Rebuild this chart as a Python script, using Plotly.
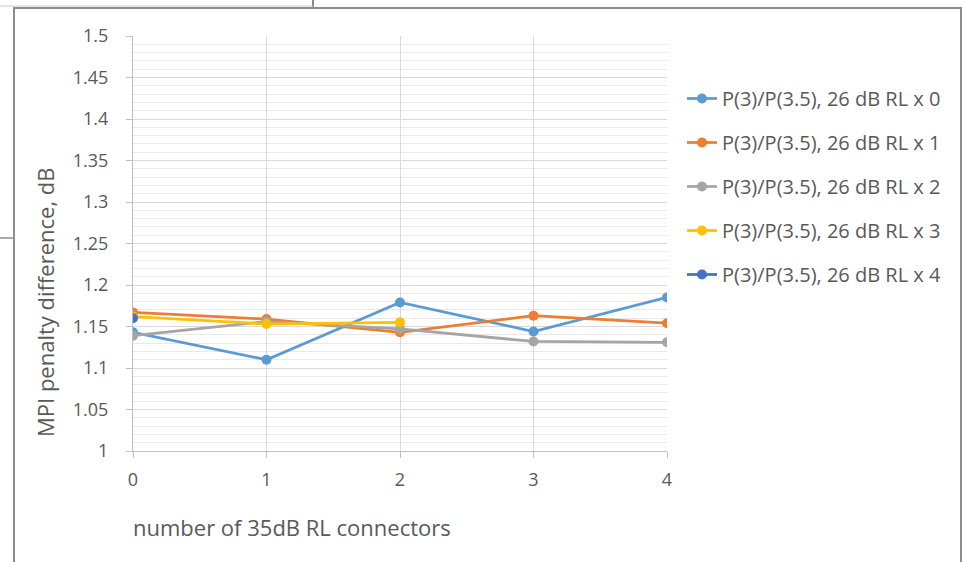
import plotly.graph_objects as go

W, H = 965, 562

x_vals = [0, 1, 2, 3, 4]
series_names = [
    "P(3)/P(3.5), 26 dB RL x 0",
    "P(3)/P(3.5), 26 dB RL x 1",
    "P(3)/P(3.5), 26 dB RL x 2",
    "P(3)/P(3.5), 26 dB RL x 3",
    "P(3)/P(3.5), 26 dB RL x 4",
]
rl_x0 = [1.143, 1.110, 1.179, 1.144, 1.185]
rl_x1 = [1.167, 1.159, 1.143, 1.163, 1.154]
rl_x2 = [1.139, 1.156, 1.147, 1.132, 1.131]
rl_x3 = [1.162, 1.153, 1.155]
rl_x4 = [1.160]
series_vals = [rl_x0, rl_x1, rl_x2, rl_x3, rl_x4]
colors = ["#5B9BD5", "#ED7D31", "#A5A5A5", "#FFC000", "#4472C4"]

y_ticks = [1, 1.05, 1.1, 1.15, 1.2, 1.25, 1.3, 1.35, 1.4, 1.45, 1.5]
y_tick_text = ["1", "1.05", "1.1", "1.15", "1.2", "1.25", "1.3", "1.35", "1.4", "1.45", "1.5"]

FONT = "Open Sans"
TXT = "#595959"

fig = go.Figure()
for i, (name, vals, col) in enumerate(zip(series_names, series_vals, colors)):
    fig.add_trace(go.Scatter(
        x=x_vals[:len(vals)], y=vals, name=name, mode="lines+markers",
        line=dict(color=col, width=2.75),
        marker=dict(color=col, size=10),
        legendgroup=f"g{i}",
    ))

def px_x(p):
    return p / W

def px_y(p):
    return 1 - p / H

fig.update_layout(
    width=W, height=H,
    margin=dict(l=0, r=0, t=0, b=0, autoexpand=False),
    paper_bgcolor="white", plot_bgcolor="white",
    font=dict(family=FONT, color=TXT, size=18),
    showlegend=True,
    legend=dict(
        x=px_x(682), y=px_y(79), xanchor="left", yanchor="top",
        font=dict(family=FONT, size=20, color=TXT),
        tracegroupgap=15, traceorder="grouped",
        bgcolor="rgba(0,0,0,0)",
    ),
    xaxis=dict(
        domain=[px_x(133), px_x(667)],
        range=[0, 4], tickvals=x_vals, ticktext=[str(v) for v in x_vals],
        showgrid=True, gridcolor="#d9d9d9", gridwidth=1,
        showline=True, linecolor="#bfbfbf", linewidth=1,
        ticks="outside", ticklen=6, tickcolor="#bfbfbf",
        tickfont=dict(family=FONT, size=18, color=TXT),
        ticklabelstandoff=6,
        zeroline=False, fixedrange=True, automargin=False,
    ),
    yaxis=dict(
        domain=[px_y(451), px_y(36)],
        range=[1, 1.5], tickvals=y_ticks, ticktext=y_tick_text,
        showgrid=True, gridcolor="#d9d9d9", gridwidth=1,
        minor=dict(dtick=0.01, showgrid=True, gridcolor="#e9e9e9", gridwidth=1),
        showline=True, linecolor="#bfbfbf", linewidth=1,
        ticks="outside", ticklen=6, tickcolor="#bfbfbf",
        tickfont=dict(family=FONT, size=18, color=TXT),
        ticklabelstandoff=14,
        zeroline=False, fixedrange=True, automargin=False,
    ),
    annotations=[
        dict(text="number of 35dB RL connectors", xref="paper", yref="paper",
             x=px_x(131), y=px_y(527), xanchor="left", yanchor="middle",
             showarrow=False, font=dict(family=FONT, size=22, color=TXT)),
        dict(text="MPI penalty difference, dB", xref="paper", yref="paper",
             x=px_x(45), y=px_y(302), xanchor="center", yanchor="middle",
             textangle=-90,
             showarrow=False, font=dict(family=FONT, size=22, color=TXT)),
    ],
    shapes=[
        # chart frame
        dict(type="rect", xref="paper", yref="paper",
             x0=px_x(14), x1=px_x(961), y0=px_y(575), y1=px_y(8),
             line=dict(color="#8c8c8c", width=2), fillcolor="rgba(0,0,0,0)", layer="above"),
        # spreadsheet cell lines outside the frame
        dict(type="line", xref="paper", yref="paper",
             x0=px_x(0), x1=px_x(14), y0=px_y(238), y1=px_y(238),
             line=dict(color="#8c8c8c", width=1.5)),
        dict(type="line", xref="paper", yref="paper",
             x0=px_x(313), x1=px_x(313), y0=px_y(0), y1=px_y(7),
             line=dict(color="#8c8c8c", width=2)),
        dict(type="line", xref="paper", yref="paper",
             x0=px_x(0), x1=px_x(313), y0=px_y(6), y1=px_y(6),
             line=dict(color="#c8c8c8", width=1)),
    ],
)

fig.write_html(
    "out.html",
    config={"displayModeBar": False},
    post_script="document.body.style.margin='0';document.body.style.overflow='hidden';",
)
